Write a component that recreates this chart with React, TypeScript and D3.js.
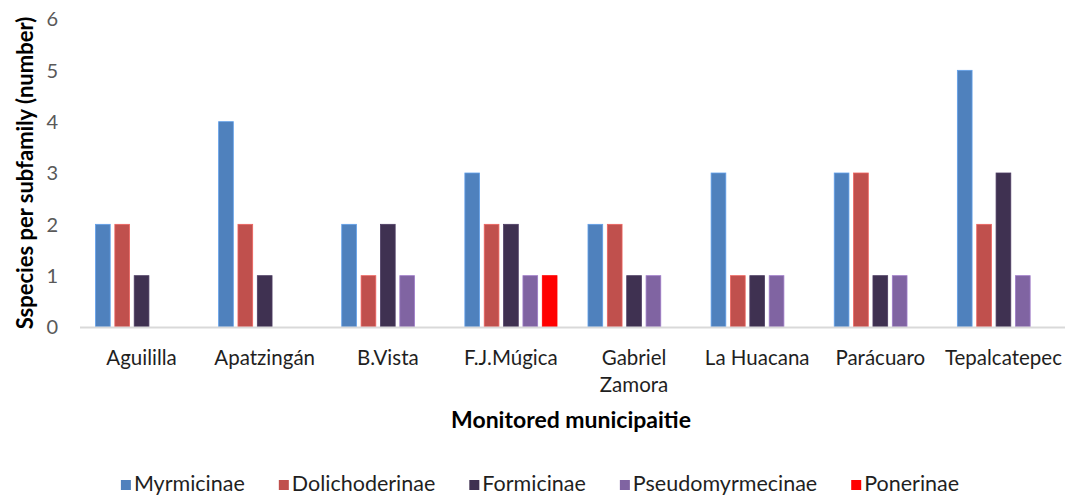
import React, { useEffect, useRef } from "react";
import * as d3 from "d3";

// municipalities (x categories)
const MUNICIPALITIES = [
  "Aguililla",
  "Apatzingán",
  "B.Vista",
  "F.J.Múgica",
  "Gabriel Zamora",
  "La Huacana",
  "Parácuaro",
  "Tepalcatepec",
];

const SUBFAMILIES = [
  "Myrmicinae",
  "Dolichoderinae",
  "Formicinae",
  "Pseudomyrmecinae",
  "Ponerinae",
];

// species per subfamily, one array per series (same order as MUNICIPALITIES)
const MYRMICINAE = [2, 4, 2, 3, 2, 3, 3, 5];
const DOLICHODERINAE = [2, 2, 1, 2, 2, 1, 3, 2];
const FORMICINAE = [1, 1, 2, 2, 1, 1, 1, 3];
const PSEUDOMYRMECINAE = [0, 0, 1, 1, 1, 1, 1, 1];
const PONERINAE = [0, 0, 0, 1, 0, 0, 0, 0];

const Y_TICKS = [0, 1, 2, 3, 4, 5, 6];

const COLORS = ["#4f81bd", "#c0504d", "#3f3151", "#8064a2", "#ff0000"];

const W = 1079;
const H = 496;
const FONT = "Lato, 'Open Sans', sans-serif";

export default function App() {
  const svgRef = useRef<SVGSVGElement>(null);

  useEffect(() => {
    document.body.style.margin = "0";
    if (!svgRef.current) return;
    const svg = d3.select(svgRef.current);
    svg.selectAll("*").remove();

    const series = [MYRMICINAE, DOLICHODERINAE, FORMICINAE, PSEUDOMYRMECINAE, PONERINAE];
    const rows = MUNICIPALITIES.map((m, i) => ({
      name: m,
      values: series.map((s, j) => ({ key: SUBFAMILIES[j], value: s[i], idx: j })),
    }));

    const plot = { left: 80, right: 1065, top: 19, bottom: 327 };

    const x0 = d3
      .scaleBand<string>()
      .domain(MUNICIPALITIES)
      .range([plot.left, plot.right])
      .padding(0);

    const x1 = d3
      .scaleBand<string>()
      .domain(SUBFAMILIES)
      .range([0, x0.bandwidth()])
      .paddingInner(0.24)
      .paddingOuter(0.8);

    const y = d3.scaleLinear().domain([0, 6]).range([plot.bottom, plot.top]);

    // y tick labels
    svg
      .append("g")
      .selectAll("text")
      .data(Y_TICKS)
      .join("text")
      .attr("x", 58)
      .attr("y", (d) => y(d))
      .attr("dy", "0.36em")
      .attr("text-anchor", "end")
      .attr("font-family", FONT)
      .attr("font-size", 20)
      .attr("fill", "#595959")
      .text((d) => d);

    // bars
    const groups = svg
      .append("g")
      .selectAll("g")
      .data(rows)
      .join("g")
      .attr("transform", (d) => `translate(${x0(d.name)},0)`);

    groups
      .selectAll("rect")
      .data((d) => d.values.filter((v) => v.value > 0))
      .join("rect")
      .attr("x", (d) => x1(d.key)!)
      .attr("y", (d) => y(d.value))
      .attr("width", x1.bandwidth())
      .attr("height", (d) => y(0) - y(d.value))
      .attr("fill", (d) => COLORS[d.idx])
      .attr("stroke", (d) => d3.color(COLORS[d.idx])!.brighter(0.6).toString())
      .attr("stroke-width", 0.8);

    // x axis line
    svg
      .append("line")
      .attr("x1", plot.left)
      .attr("x2", plot.right)
      .attr("y1", plot.bottom + 0.5)
      .attr("y2", plot.bottom + 0.5)
      .attr("stroke", "#d9d9d9")
      .attr("stroke-width", 2);

    // category labels, wrapped when wider than the band
    const catG = svg.append("g");
    MUNICIPALITIES.forEach((name) => {
      const cx = x0(name)! + x0.bandwidth() / 2;
      const t = catG
        .append("text")
        .attr("x", cx)
        .attr("y", 365)
        .attr("text-anchor", "middle")
        .attr("font-family", FONT)
        .attr("font-size", 20.5)
        .attr("fill", "#1f1f1f")
        .text(name);
      const len = (t.node() as SVGTextElement).getComputedTextLength();
      const words = name.split(" ");
      if (len > x0.bandwidth() - 8 && words.length > 1) {
        t.text(null);
        words.forEach((w, i) => {
          t.append("tspan").attr("x", cx).attr("dy", i === 0 ? 0 : 27).text(w);
        });
      }
    });

    // axis titles
    svg
      .append("text")
      .attr("x", 571)
      .attr("y", 428)
      .attr("text-anchor", "middle")
      .attr("font-family", FONT)
      .attr("font-size", 23)
      .attr("font-weight", 700)
      .attr("fill", "#000")
      .text("Monitored municipaitie");

    svg
      .append("text")
      .attr("transform", `translate(33,${(plot.top + plot.bottom) / 2}) rotate(-90)`)
      .attr("text-anchor", "middle")
      .attr("font-family", FONT)
      .attr("font-size", 22)
      .attr("font-weight", 700)
      .attr("fill", "#000")
      .text("Sspecies per subfamily (number)");

    // legend, laid out from measured text widths
    const legend = svg.append("g");
    const items = SUBFAMILIES.map((name, i) => {
      const g = legend.append("g");
      g.append("rect")
        .attr("width", 10)
        .attr("height", 10)
        .attr("y", 480)
        .attr("fill", COLORS[i]);
      const t = g
        .append("text")
        .attr("x", 13)
        .attr("y", 491)
        .attr("font-family", FONT)
        .attr("font-size", 21.5)
        .attr("fill", "#1f1f1f")
        .text(name);
      return { g, w: 13 + (t.node() as SVGTextElement).getComputedTextLength() };
    });
    const gap = 34;
    const total = d3.sum(items, (d) => d.w) + gap * (items.length - 1);
    let cursor = 540 - total / 2;
    items.forEach((it) => {
      it.g.attr("transform", `translate(${cursor},0)`);
      cursor += it.w + gap;
    });
  }, []);

  return (
    <svg
      ref={svgRef}
      width={W}
      height={H}
      style={{ display: "block", background: "#fff" }}
    />
  );
}
